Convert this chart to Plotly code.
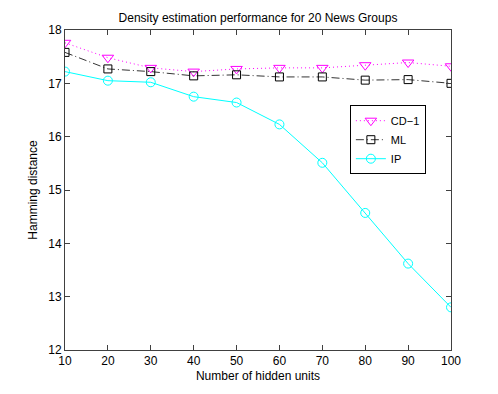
import plotly.graph_objects as go

hidden_units = [10, 20, 30, 40, 50, 60, 70, 80, 90, 100]
cd1 = [17.76, 17.48, 17.29, 17.22, 17.27, 17.29, 17.29, 17.34, 17.39, 17.32]
ml = [17.58, 17.27, 17.22, 17.14, 17.16, 17.12, 17.12, 17.06, 17.07, 17.00]
ip = [17.22, 17.05, 17.02, 16.75, 16.64, 16.23, 15.51, 14.57, 13.62, 12.80]

x_ticks = [10, 20, 30, 40, 50, 60, 70, 80, 90, 100]
y_ticks = [12, 13, 14, 15, 16, 17, 18]

FONT = "Liberation Sans, Arial, sans-serif"

fig = go.Figure()
fig.add_trace(go.Scatter(
    x=hidden_units, y=cd1, name="CD\u22121", mode="lines+markers",
    line=dict(color="#ff00ff", width=1, dash="1px,3px"),
    marker=dict(symbol="triangle-down-open", size=10, color="#ff00ff", line=dict(width=1)),
))
fig.add_trace(go.Scatter(
    x=hidden_units, y=ml, name="ML", mode="lines+markers",
    line=dict(color="#000000", width=0.8, dash="8px,3px,1px,3px"),
    marker=dict(symbol="square-open", size=8, color="#000000", line=dict(width=1)),
))
fig.add_trace(go.Scatter(
    x=hidden_units, y=ip, name="IP", mode="lines+markers",
    line=dict(color="#00ffff", width=1),
    marker=dict(symbol="circle-open", size=9, color="#00ffff", line=dict(width=1)),
))

axis_style = dict(
    showgrid=False, zeroline=False, showline=True, mirror="ticks",
    linecolor="#404040", linewidth=1, ticks="inside", ticklen=5,
    tickcolor="#404040", tickfont=dict(size=12, color="#000000", family=FONT),
)

fig.update_xaxes(range=[10, 100], tickvals=x_ticks,
                 title=dict(text="Number of hidden units", font=dict(size=12, color="#000"), standoff=4),
                 **axis_style)
fig.update_yaxes(range=[12, 18], tickvals=y_ticks,
                 title=dict(text="Hamming distance", font=dict(size=12, color="#000"), standoff=8),
                 **axis_style)

fig.update_layout(
    width=490, height=386,
    margin=dict(l=57, r=47, t=22, b=44),
    paper_bgcolor="white", plot_bgcolor="white",
    font=dict(family=FONT, size=12, color="#000"),
    title=dict(text="Density estimation performance for 20 News Groups",
               x=0.5, xref="paper", xanchor="center", y=0.985, yanchor="top",
               font=dict(size=12, color="#000")),
    showlegend=True,
    legend=dict(x=0.738, y=0.765, xanchor="left", yanchor="top",
                bordercolor="#000000", borderwidth=1, bgcolor="white",
                font=dict(size=11, color="#000"), itemwidth=30,
                tracegroupgap=0),
)

fig.write_html("out.html")
